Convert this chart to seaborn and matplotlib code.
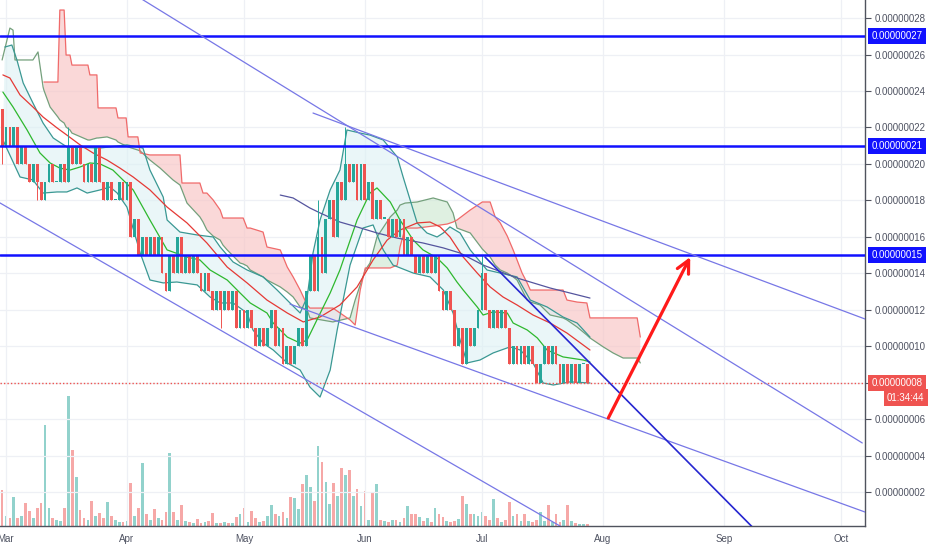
import numpy as np
import matplotlib
matplotlib.use("Agg")
import matplotlib.pyplot as plt
import matplotlib.transforms as mtransforms
import seaborn as sns

# ---------------- data (day index 0 = 28 Feb, prices in units of 1e-8) ----------------
opens = [23,21,22,21,22,20,21,20,19,20, 19,18,19,20,19,19,20,19,21,20,
         21,20,19,20,19,21,19,18,19,18, 18,19,18,19,16,17,15,16,15,16,
         15,16,14,13,15,14,16,14,15,14, 15,14,13,14,13,12,13,12,13,12,
         13,11,12,11,12,11,10,11,10,11, 12,10,11,9,10,9,10,11,10,13,
         15,13,16,14,17,18,16,19,18,20, 19,20,18,20,18,19,17,18,17,17,
         16,17,16,17,15,16,15,14,15,14, 15,14,15,13,12,13,12,10,11,9,
         11,10,11,12,14,12,11,12,11,12, 11,9,10,9,10,9,10,9,8,9,
         10,9,10,9,8,9,8,9,8,9, 9]
closes = [21,22,21,22,20,21,20,19,20,19, 18,19,20,19,19,20,19,21,20,21,
          20,19,20,19,21,19,18,19,18,18, 19,18,19,16,17,15,16,15,16,15,
          16,14,13,15,14,16,14,15,14,15, 14,13,14,13,12,13,12,13,12,13,
          11,12,11,12,11,10,11,10,11,12, 10,11,9,10,9,10,11,10,13,15,
          13,16,14,17,18,16,19,18,20,19, 20,18,20,18,19,17,18,17,17,16,
          17,16,17,15,16,15,14,15,14,15, 14,15,13,12,13,12,10,11,9,11,
          10,11,12,14,12,11,12,11,12,11, 9,10,9,10,9,10,9,8,9,10,
          9,10,9,8,9,8,9,8,9,9, 8]
wick_idx = [0, 9, 17, 56, 81, 88, 112, 123, 130]
wick_hi = [23, 20, 22, 13, 18, 22, 15, 15, 11]
wick_lo = [20, 18, 19, 11, 13, 19, 13, 12, 9]
volumes = [36,10,8,29,8,10,23,15,8,18, 23,101,18,8,6,5,18,130,76,49,
           16,8,6,25,10,13,8,24,10,6, 4,4,5,43,10,18,63,12,6,17,
           8,6,14,73,14,6,21,5,4,3, 7,3,4,5,13,3,3,4,3,3,
           9,12,18,4,15,8,4,5,10,21, 12,10,14,8,29,28,17,42,51,39,
           25,80,64,44,22,43,30,58,51,56, 30,37,20,35,6,34,42,6,5,4,
           6,6,4,8,20,12,12,9,5,8, 4,18,12,9,5,4,5,7,30,22,
           12,12,10,14,10,6,27,8,4,6, 24,10,12,5,12,5,4,6,14,5,
           21,4,12,4,6,21,5,3,2,2, 2]

green_i = [0.2,2.8,6.4,9.7,12.3,14.8,17.4,20.0,22.5,25.1,28.4,33.6,37.9,42.3,47.4,50.7,53.3,57.7,61.0,63.6,
           67.9,69.5,73.1,76.4,78.2,80.7,84.1,86.6,91.0,94.3,96.1,99.5,102.0,105.4,107.9,111.5,114.1,116.6,118.2,121.8,
           123.3,125.9,129.5,131.0,134.6,137.2,139.7,143.8,149.0,150.7]
green_v = [23.94,23.12,21.86,20.60,20.05,19.77,19.66,19.83,20.05,20.00,19.66,18.57,16.92,15.28,14.89,14.73,14.18,13.63,12.92,12.37,
           11.82,11.27,10.50,10.17,10.34,11.44,12.92,14.18,16.92,18.40,18.68,17.91,16.92,15.82,15.28,14.84,14.29,13.52,13.08,12.15,
           11.71,11.88,11.82,11.27,10.89,10.45,9.79,9.41,9.24,9.13]
red_i = [0.2,2.0,4.6,7.9,10.5,14.1,16.6,20.0,23.3,26.9,30.2,33.6,37.9,42.3,47.4,52.5,57.7,62.8,67.9,73.1,
         77.2,81.5,86.6,91.0,95.1,98.7,102.0,106.4,109.7,112.3,114.8,118.2,121.8,125.1,128.4,132.0,136.1,140.5,144.8,150.7]
red_v = [24.88,24.71,23.78,23.12,22.57,21.97,21.58,21.04,20.60,20.21,19.77,19.28,18.57,17.63,16.76,15.66,14.34,13.47,12.53,11.82,
         11.33,11.60,12.26,13.25,14.73,15.82,16.37,16.76,16.81,16.54,15.99,14.89,14.01,13.25,12.70,12.26,11.71,11.27,10.72,9.79]
slow_i = [71.3,74.6,78.9,81.5,86.6,91.0,96.1,101.3,107.9,113.1,117.4,123.3,132.0,140.5,150.7]
slow_v = [18.29,18.13,17.58,17.31,16.81,16.54,16.21,15.93,15.66,15.39,15.11,14.45,13.74,13.19,12.64]

bb_up_i = [0.7,2.5,3.8,5.4,7.9,10.5,13.1,16.6,25.1,32.0,36.1,37.9,41.3,42.3,45.6,50.0,54.1,55.9,59.2,62.8,
           66.9,70.5,73.8,76.4,78.2,79.7,81.5,84.1,86.6,88.4,91.8,94.3,97.7,101.3,102.8,104.6,106.4,108.9,111.5,113.1,
           114.8,117.4,120.0,124.3,127.7,132.0,135.4,139.7,143.8,147.4,150.7]
bb_up_v = [26.41,26.52,25.70,24.44,23.34,22.24,21.42,20.93,20.87,21.04,20.87,19.66,18.18,16.92,16.26,16.10,15.99,15.44,14.62,14.18,
           13.80,13.08,12.37,11.82,12.70,15.11,16.92,18.57,19.66,21.86,21.69,21.58,21.31,20.38,19.28,18.02,16.76,16.21,15.99,16.21,
           16.54,16.21,15.28,14.18,14.01,13.80,12.53,12.15,11.60,11.27,10.50]
bb_lo_i = [0.2,4.6,7.9,10.5,14.1,16.6,19.2,21.8,25.1,27.7,29.5,32.0,35.4,37.9,41.3,44.8,50.0,53.3,55.9,59.2,
           62.8,64.3,66.9,69.5,73.1,76.4,78.9,81.5,84.1,85.9,89.2,92.5,95.1,97.7,100.2,105.4,109.7,113.1,115.6,117.4,
           119.2,122.5,125.9,130.2,132.8,136.1,138.7,141.3,145.6,150.7]
bb_lo_v = [21.31,19.28,19.12,18.40,18.46,18.46,18.68,18.40,18.57,18.73,18.40,17.63,15.11,13.63,13.47,13.52,13.36,12.70,12.37,12.37,
           11.82,10.89,10.17,9.79,9.08,8.69,7.76,7.21,8.69,10.89,14.45,16.48,16.65,15.28,14.45,14.01,13.80,13.08,11.82,10.34,
           9.08,9.24,9.63,9.96,9.79,9.08,7.98,7.87,8.04,7.98]

span_a_pre_i = [0.0,2.0,2.8,3.3,7.9,9.2,10.5]
span_a_pre_v = [25.70,27.45,27.34,25.70,25.70,26.14,24.22]
cloud_i = [10.7,12.3,14.3,14.8,15.9,16.4,17.4,17.9,22.0,22.5, 24.3,24.6,26.9,29.2,29.7,31.8,32.3,34.8,35.4,37.9,
           40.5,43.8,45.6,46.1,47.4,50.7,51.5,52.5,54.1,55.9, 56.6,57.7,61.0,61.8,62.8,63.6,66.9,67.9,71.3,73.1,
           74.6,76.4,78.2,78.9,84.8,89.2,90.5,91.8,93.1,94.3, 96.1,99.5,101.3,102.0,103.3,106.4,110.5,114.1,115.6,116.6,
           120.0,123.1,125.1,126.4,127.7,129.5,131.0,132.0,133.3,134.6, 135.4,137.9,140.5,143.8,144.8,147.4,149.9,150.7,154.1,156.6,
           159.2,162.8,163.6]
span_b = [24.49,24.49,24.49,28.44,28.44,25.97,25.97,25.42,25.42,24.88, 24.88,23.07,23.07,23.07,22.52,22.52,21.48,21.48,20.60,20.49,
          20.49,20.49,20.49,18.95,18.95,18.95,18.40,18.40,18.02,17.47, 17.03,17.03,17.03,17.03,16.48,16.48,16.26,15.44,15.28,14.34,
          13.80,13.08,12.26,12.09,12.09,11.44,11.16,13.08,14.29,14.29, 14.29,14.29,14.45,15.44,16.48,16.48,16.59,16.70,16.81,16.92,
          17.47,17.91,17.91,17.09,16.76,16.04,15.28,14.73,14.01,13.47, 13.08,13.08,13.08,13.08,12.53,12.42,12.37,11.55,11.55,11.55,
          11.55,11.55,10.50]
span_a = [24.05,23.12,22.57,22.41,22.24,22.02,21.86,21.69,21.31,21.31, 21.42,21.42,21.48,21.31,21.20,20.98,20.93,20.76,20.71,20.21,
          19.77,19.12,18.84,18.57,17.85,17.09,16.81,16.37,16.04,15.82, 15.55,15.28,14.56,14.51,14.40,14.18,13.80,13.63,13.25,12.97,
          12.70,12.15,11.99,11.55,11.33,11.55,12.53,13.36,14.18,14.56, 15.99,17.09,17.47,17.74,17.85,17.91,18.13,17.91,17.31,16.48,
          16.21,15.33,14.89,14.45,14.18,14.01,13.80,13.63,13.08,12.53, 12.42,12.26,11.71,11.55,11.44,11.05,10.61,10.45,9.96,9.63,
          9.35,9.35,9.08]

# drawn objects: horizontal levels, trend lines (start day, start value, end day, end value), arrow
h_levels = [27, 21, 15]
last_price = 8
timer_text = "01:34:44"
trend_thin = [(32.0, 29.54, 220.5, 4.69),
              (79.7, 22.79, 225.1, 11.18),
              (73.8, 12.31, 225.1, 0.60),
              (-2.6, 18.11, 149.2, -0.63)]
trend_dark = [(123.8, 14.89, 195.6, -0.63)]
arrow_from = (155.4, 6.06)
arrow_to = (176.4, 14.89)

month_pos = [1, 32, 62, 93, 123, 154, 185, 215]
month_labels = ["Mar", "Apr", "May", "Jun", "Jul", "Aug", "Sep", "Oct"]
y_ticks = list(range(2, 29, 2))

# ---------------- styling ----------------
sns.set_style("white")
plt.rcParams['font.family'] = ['Liberation Sans', 'DejaVu Sans']
UP, DN = '#26a69a', '#ef5350'
TXT = '#4f5362'
AX = '#50535e'

fig = plt.figure(figsize=(9.32, 5.5), dpi=100)
fig.patch.set_facecolor('white')
ax = fig.add_axes([0, 24/550, 865/932, 526/550])
axv = ax.twinx()
ax.set_zorder(2)
axv.set_zorder(1)
ax.patch.set_visible(False)

ax.set_xlim(-0.54, 221.2)
ax.set_ylim(0.135, 28.99)
axv.set_ylim(0, 526)

# grid
for v in y_ticks:
    ax.axhline(v, color='#eef0f5', lw=0.9, zorder=0)
for m in month_pos:
    ax.axvline(m, color='#eef0f5', lw=0.9, zorder=0)

# volume
o = np.array(opens, float)
c = np.array(closes, float)
idx = np.arange(len(o))
up = c >= o
vcols = [(0.149, 0.651, 0.604, 0.5) if u else (0.937, 0.325, 0.314, 0.5) for u in up]
axv.bar(idx, volumes, width=0.7, color=vcols, lw=0)
axv.set_yticks([])
for s in axv.spines.values():
    s.set_visible(False)

# ichimoku cloud
ci = np.array(cloud_i)
sa = np.array(span_a)
sb = np.array(span_b)
ax.fill_between(ci, sa, sb, where=sa >= sb, interpolate=True, color='#cfe8d2', alpha=0.65, lw=0, zorder=1)
ax.fill_between(ci, sa, sb, where=sa < sb, interpolate=True, color='#f8c4c4', alpha=0.65, lw=0, zorder=1)

# bollinger fill
ax.fill(np.r_[bb_up_i, bb_lo_i[::-1]], np.r_[bb_up_v, bb_lo_v[::-1]], color='#dcf1f4', alpha=0.6, lw=0, zorder=1)


def line(xs, ys, color, lw, z=3):
    sns.lineplot(x=xs, y=ys, ax=ax, color=color, linewidth=lw, sort=False,
                 estimator=None, legend=False, zorder=z)


line(span_a_pre_i + cloud_i, span_a_pre_v + span_a, '#74a07c', 0.9)
line(cloud_i, span_b, '#f06a6a', 0.9)
line(bb_up_i, bb_up_v, '#3a9893', 0.9)
line(bb_lo_i, bb_lo_v, '#3a9893', 0.9)
line(red_i, red_v, '#e53935', 0.9)
line(green_i, green_v, '#2eb82e', 0.9)
line(slow_i, slow_v, '#55559e', 0.9)

# candles
hi = np.maximum(o, c)
lo = np.minimum(o, c)
for k, h, l in zip(wick_idx, wick_hi, wick_lo):
    hi[k] = max(hi[k], h)
    lo[k] = min(lo[k], l)
ccols = [UP if u else DN for u in up]
ax.vlines(idx, lo, hi, colors=ccols, lw=0.7, zorder=5)
ax.bar(idx, np.maximum(np.abs(c - o), 0.06), bottom=np.minimum(o, c), width=0.72,
       color=ccols, lw=0, zorder=6)

# horizontal levels and last price
for v in h_levels:
    ax.axhline(v, color='#1111ff', lw=1.8, zorder=8)
ax.axhline(last_price, color=DN, lw=1.0, ls=(0, (1, 1.5)), zorder=8)

# trend lines
for (x0, y0, x1, y1) in trend_thin:
    ax.plot([x0, x1], [y0, y1], color='#7777e6', lw=0.9, zorder=9)
for (x0, y0, x1, y1) in trend_dark:
    ax.plot([x0, x1], [y0, y1], color='#2626d0', lw=1.2, zorder=9)

ax.annotate("", xy=arrow_to, xytext=arrow_from,
            arrowprops=dict(arrowstyle="->,head_length=0.9,head_width=0.45", color='#ff1a1a',
                            lw=2.3, shrinkA=0, shrinkB=0), zorder=10)

# axes / ticks
ax.yaxis.tick_right()
ax.set_yticks(y_ticks)
ax.set_yticklabels(["" if v == last_price else f"{v*1e-8:.8f}" for v in y_ticks])
ax.set_xticks(month_pos)
ax.set_xticklabels(month_labels)
ax.tick_params(axis='y', right=True, left=False, length=4, width=0.8, color=AX,
               labelsize=7.0, labelcolor=TXT, pad=3)
ax.tick_params(axis='x', length=4, width=0.8, color=AX, labelsize=7, labelcolor=TXT, pad=2)
for side in ['top', 'left']:
    ax.spines[side].set_visible(False)
for side in ['right', 'bottom']:
    ax.spines[side].set_color(AX)
    ax.spines[side].set_linewidth(1.0)

trans = mtransforms.blended_transform_factory(ax.transAxes, ax.transData)
for v in h_levels:
    ax.text(1.0075, v, f"{v*1e-8:.8f}", transform=trans, ha='left', va='center', color='white',
            fontsize=7.0, bbox=dict(boxstyle='square,pad=0.32', fc='#1111ff', ec='none'),
            zorder=20, clip_on=False)
ax.text(1.0075, last_price, f"{last_price*1e-8:.8f}", transform=trans, ha='left', va='center',
        color='white', fontsize=7.0, bbox=dict(boxstyle='square,pad=0.32', fc=DN, ec='none'),
        zorder=20, clip_on=False)
ax.text(1.047, last_price - 0.82, timer_text, transform=trans, ha='center', va='center',
        color='white', fontsize=7.0, bbox=dict(boxstyle='square,pad=0.32', fc=DN, ec='none'),
        zorder=20, clip_on=False)

fig.savefig("out.png", dpi=100, facecolor='white')
